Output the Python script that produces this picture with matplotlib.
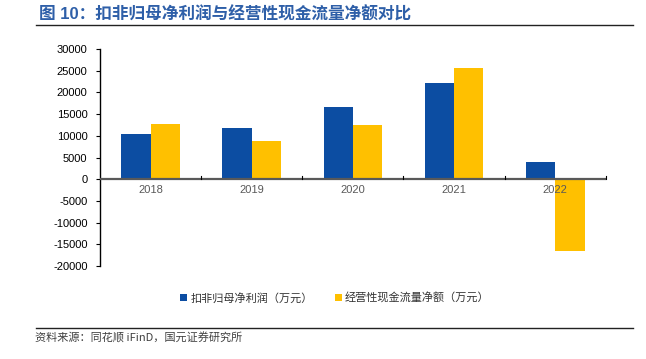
import matplotlib
matplotlib.use("Agg")
import matplotlib.pyplot as plt
import numpy as np
from matplotlib.patches import Patch
from matplotlib.lines import Line2D

plt.rcParams['font.family'] = ['Liberation Sans', 'Noto Sans CJK SC', 'DejaVu Sans']

years = ["2018", "2019", "2020", "2021", "2022"]
net_profit = [10500, 11900, 16700, 22200, 3900]
op_cashflow = [12800, 8900, 12400, 25700, -16600]
series_names = ["扣非归母净利润（万元）", "经营性现金流量净额（万元）"]
yticks = [-20000, -15000, -10000, -5000, 0, 5000, 10000, 15000, 20000, 25000, 30000]

blue = "#0C4DA2"
yellow = "#FFC000"

fig = plt.figure(figsize=(6.46, 3.59), dpi=100)
ax = fig.add_axes([0.1548, 0.259, 0.783, 0.6045])

x = np.arange(len(years))
w = 0.29
ax.bar(x - w/2, net_profit, width=w, color=blue, zorder=2)
ax.bar(x + w/2, op_cashflow, width=w, color=yellow, zorder=2)

ax.set_xlim(-0.5, len(years) - 0.5)
ax.set_ylim(-20000, 30000)
ax.set_yticks(yticks)
ax.set_yticklabels([str(v) for v in yticks], fontsize=8, color="black")

for s in ["top", "right", "bottom"]:
    ax.spines[s].set_visible(False)
ax.spines["left"].set_color("black")
ax.spines["left"].set_linewidth(1.0)
ax.tick_params(axis="y", direction="out", length=3, width=0.8, pad=6)

# zero line as x axis
ax.axhline(0, color="#595959", linewidth=1.6, zorder=3)
ax.set_xticks([])
for i in range(1, len(years) + 1):
    ax.plot([i - 0.5, i - 0.5], [0, 700], color="black", linewidth=0.8, zorder=3, clip_on=False)
for i, yl in enumerate(years):
    ax.text(i, -1400, yl, ha="center", va="top", fontsize=8, color="#595959")

handles = [Patch(facecolor=blue, edgecolor="none"), Patch(facecolor=yellow, edgecolor="none")]
leg = fig.legend(handles, series_names, loc="center", bbox_to_anchor=(0.5186, 0.170), ncol=2,
                 frameon=False, handlelength=0.6, handleheight=0.6,
                 handletextpad=0.3, columnspacing=2.0,
                 prop={'family': ['Noto Sans CJK SC'], 'size': 8})
for t in leg.get_texts():
    t.set_color("#333333")

fig.text(0.060, 0.961, "图 10：扣非归母净利润与经营性现金流量净额对比", fontsize=12, fontweight="bold",
         color="#2E5FA8", ha="left", va="center", family=['Liberation Sans', 'Noto Sans CJK SC'])
fig.add_artist(Line2D([0.0557, 0.98], [0.930, 0.930], color="#222222", linewidth=1.0))
fig.add_artist(Line2D([0.0557, 0.98], [0.0864, 0.0864], color="#222222", linewidth=1.0))
fig.text(0.054, 0.057, "资料来源：同花顺 iFinD，国元证券研究所", fontsize=8, color="#404040",
         ha="left", va="center", family=['Noto Sans CJK SC'])

fig.savefig("out.png", dpi=100)
